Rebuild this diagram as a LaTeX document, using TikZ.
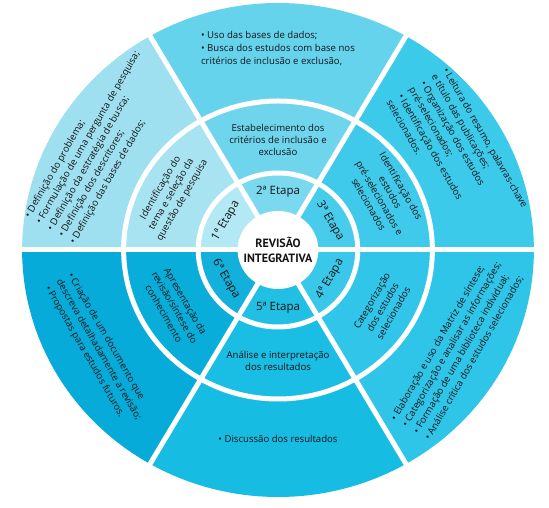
\documentclass[tikz,border=0pt]{standalone}
\usepackage{fontspec}
\setmainfont{Open Sans}
\newfontfamily\ctrfont{PT Sans}
\definecolor{soA}{HTML}{9EDFF0}\definecolor{smA}{HTML}{A8E3F2}\definecolor{seA}{HTML}{B3E8F5}
\definecolor{soB}{HTML}{66D3EC}\definecolor{smB}{HTML}{6FD5ED}\definecolor{seB}{HTML}{7AD9EF}
\definecolor{soC}{HTML}{3CCAEB}\definecolor{smC}{HTML}{3FC9EA}\definecolor{seC}{HTML}{48CCEB}
\definecolor{soD}{HTML}{2EC5E9}\definecolor{smD}{HTML}{31C6E9}\definecolor{seD}{HTML}{3AC8EA}
\definecolor{soE}{HTML}{17BCE3}\definecolor{smE}{HTML}{1ABDE3}\definecolor{seE}{HTML}{22BFE4}
\definecolor{soF}{HTML}{06ABD9}\definecolor{smF}{HTML}{08ADD9}\definecolor{seF}{HTML}{12B0DB}
\definecolor{txt}{HTML}{151515}
\tikzset{
  outertxt/.style={text=txt, align=left, font=\fontsize{9.6}{13}\selectfont, inner sep=0pt},
  midtxt/.style={text=txt, align=center, font=\fontsize{9.6}{12.4}\selectfont, inner sep=0pt},
  etapatxt/.style={text=txt, font=\fontsize{11.5}{14}\selectfont, inner sep=0pt},
  gap/.style={white, line width=5pt}
}
\begin{document}
\begin{tikzpicture}[x=1pt,y=1pt]
\useasboundingbox (0,0) rectangle (549,508);
\fill[white] (0,0) rectangle (549,508);
\begin{scope}[shift={(278,258)}, xscale=1.036]
  \coordinate (C) at (0,0);
  \foreach \a/\k in {120/A, 60/B, 0/C, -60/D, -120/E, 180/F}{
    \fill[so\k] (0,0) -- (\a:247pt) arc[start angle=\a, end angle=\a+60, radius=247pt] -- cycle;
    \fill[sm\k] (0,0) -- (\a:149pt) arc[start angle=\a, end angle=\a+60, radius=149pt] -- cycle;
    \fill[se\k] (0,0) -- (\a:77pt) arc[start angle=\a, end angle=\a+60, radius=77pt] -- cycle;
  }
  \draw[gap] (0,0) circle[radius=149pt];
  \draw[gap] (0,0) circle[radius=77pt];
  \draw[gap] (180:252pt) -- (0:252pt);
  \draw[gap] (60:252pt) -- (240:252pt);
  \draw[gap] (120:252pt) -- (300:252pt);
  \fill[white] (0,0) circle[radius=39pt];

  % centre
  \node[text=txt, align=center, font=\ctrfont\fontsize{12}{15}\selectfont\bfseries, inner sep=0pt] (center) at (0,0) {REVISÃO\\INTEGRATIVA};

  % etapas
  \node[etapatxt, rotate=60] (e1) at (150:58pt) {1ª Etapa};
  \node[etapatxt] (e2) at (90:58pt) {2ª Etapa};
  \node[etapatxt, rotate=-60] (e3) at (30:58pt) {3ª Etapa};
  \node[etapatxt, rotate=60] (e4) at (-30:58pt) {4ª Etapa};
  \node[etapatxt] (e5) at (-90:58pt) {5ª Etapa};
  \node[etapatxt, rotate=-60] (e6) at (210:58pt) {6ª Etapa};

  % middle ring
  \node[midtxt, rotate=60] (m1) at (151.5:117pt) {Identificação do\\tema e seleção da\\questão de pesquisa};
  \node[midtxt] (m2) at (90:110pt) {Estabelecimento dos\\critérios de inclusão e\\exclusão};
  \node[midtxt, rotate=-60] (m3) at (28:117pt) {Identificação dos\\estudos\\pré-selecionados e\\selecionados};
  \node[midtxt, rotate=60] (m4) at (-29.5:116pt) {Categorização\\dos estudos\\selecionados};
  \node[midtxt] (m5) at (-90:111pt) {Análise e interpretação\\dos resultados};
  \node[midtxt, rotate=-60] (m6) at (210:115pt) {Apresentação da\\revisão/síntese do\\conhecimento};

  % outer ring
  \node[outertxt, rotate=60] (o1) at (148.5:202pt) {• Definição do problema;\\• Formulação de uma pergunta de pesquisa;\\• Definição da estratégia de busca;\\• Definição dos descritores;\\• Definição das bases de dados;};
  \node[outertxt] (o2) at (90:202pt) {• Uso das bases de dados;\\• Busca dos estudos com base nos\\critérios de inclusão e exclusão,};
  \node[outertxt, rotate=-60] (o3) at (29:198pt) {• Leitura do resumo, palavras-chave\\e título das publicações;\\• Organização dos estudos\\pré-selecionados;\\• Identificação dos estudos\\selecionados.};
  \node[outertxt, rotate=60] (o4) at (-29.5:199pt) {• Elaboração e uso da Matriz de síntese;\\• Categorização e analisar as informações;\\• Formação de uma biblioteca individual;\\• Análise crítica dos estudos selecionados;};
  \node[outertxt] (o5) at (-90:189pt) {• Discussão dos resultados};
  \node[outertxt, rotate=-60] (o6) at (210:200pt) {• Criação de um documento que\\descreva detalhadamente a revisão;\\• Propostas para estudos futuros.};
\end{scope}
\end{tikzpicture}
\end{document}
